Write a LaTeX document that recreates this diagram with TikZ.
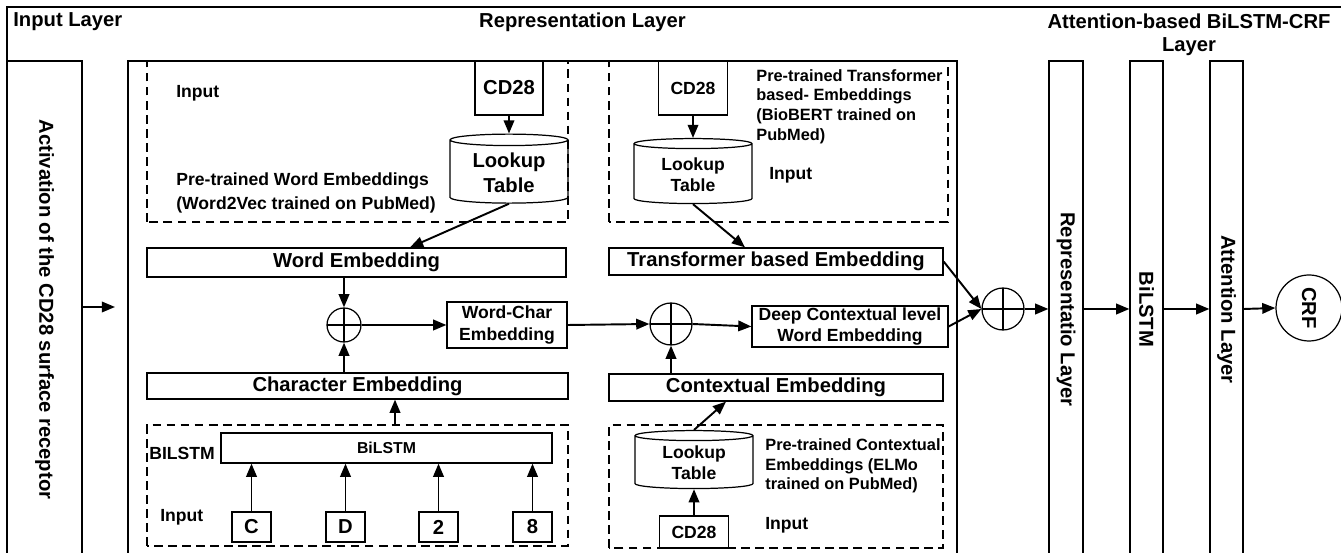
\documentclass[tikz,border=0pt]{standalone}
\usepackage{fontspec}
\setmainfont{Liberation Sans}
\usetikzlibrary{arrows.meta,shapes.geometric}

\begin{document}
\begin{tikzpicture}[
  box/.style={draw,line width=0.7pt,inner sep=1pt},
  dbox/.style={draw,line width=0.7pt,dash pattern=on 5pt off 3pt},
  arr/.style={-{Triangle[length=7.5pt,width=6pt]},line width=1.1pt},
  lut/.style={draw,cylinder,shape border rotate=90,aspect=0.15,line width=0.7pt,align=center,minimum width=2.36cm,inner sep=1pt},
  oplus/.style={draw,circle,line width=0.7pt,inner sep=0pt,
    path picture={\draw[line width=0.7pt] (path picture bounding box.north) -- (path picture bounding box.south)
      (path picture bounding box.west) -- (path picture bounding box.east);}},
  lbl/.style={anchor=west,inner sep=0pt,align=left},
  big/.style={font=\fontsize{11.5}{14}\selectfont\bfseries},
  txt/.style={font=\fontsize{10}{12}\selectfont\bfseries},
  note/.style={font=\fontsize{9.3}{11}\selectfont\bfseries},
]
\useasboundingbox (0,0) rectangle (26.82,11.06);

% Frame and layer titles
\draw[line width=0.8pt] (0.14,0) -- (0.14,10.92) -- (26.82,10.92);
\node[big,lbl] at (0.26,10.62) {Input Layer};
\node[big] at (11.65,10.62) {Representation Layer};
\node[big,align=center,font=\fontsize{11.5}{13}\selectfont\bfseries] at (23.78,10.36) {Attention-based BiLSTM-CRF\\Layer};

% Input layer
\node[box,big,minimum width=1.5cm,minimum height=9.94cm] (act) at (0.89,4.87) {\rotatebox{-90}{Activation of the CD28 surface receptor}};
\coordinate (repin) at (2.30,4.92);
\draw[arr] (act.east |- repin) -- (repin);

% Representation layer
\draw[line width=0.7pt] (2.56,-0.1) rectangle (19.14,9.84);
\draw[dbox] (2.94,6.62) rectangle (11.36,9.84);
\draw[dbox] (12.18,6.62) rectangle (18.96,9.84);
\draw[dbox] (2.94,0.14) rectangle (11.36,2.56);
\draw[dbox] (12.18,0.1) rectangle (18.86,2.56);

% Word2Vec part
\node[txt,lbl] at (3.52,9.2) {Input};
\node[txt,lbl,font=\fontsize{10}{13.6}\selectfont\bfseries] at (3.52,7.2) {Pre-trained Word Embeddings\\(Word2Vec trained on PubMed)};
\node[box,big,minimum width=1.36cm,minimum height=1.08cm] (cdw) at (10.18,9.3) {CD28};
\node[lut,big,minimum height=1.38cm] (lutw) at (10.18,7.61) {Lookup\\Table};
\draw[arr] (cdw.south) -- (lutw.north);
\node[box,big,minimum width=8.38cm,minimum height=0.58cm] (wemb) at (7.13,5.81) {Word Embedding};
\draw[arr] (lutw.south) -- ([xshift=1.07cm]wemb.north);

% BioBERT part
\node[box,txt,minimum width=1.38cm,minimum height=1.08cm] (cdt) at (13.86,9.3) {CD28};
\node[lut,txt,minimum height=1.3cm] (lutt) at (13.86,7.57) {Lookup\\Table};
\draw[arr] (cdt.south) -- (lutt.north);
\node[note,lbl,font=\fontsize{9.3}{11.2}\selectfont\bfseries] at (15.12,8.93) {Pre-trained Transformer\\based- Embeddings\\(BioBERT trained on\\PubMed)};
\node[txt,lbl] at (15.38,7.56) {Input};
\node[box,big,minimum width=6.68cm,minimum height=0.54cm] (temb) at (15.52,5.83) {Transformer based Embedding};
\draw[arr] (lutt.south) -- ([xshift=-0.62cm]temb.north);

% Combining
\node[oplus,minimum size=0.68cm] (plus1) at (6.88,4.56) {};
\node[box,txt,minimum width=2.4cm,minimum height=0.92cm,align=center] (wcemb) at (10.14,4.56) {Word-Char\\Embedding};
\node[oplus,minimum size=0.84cm] (plus2) at (13.42,4.58) {};
\node[box,txt,minimum width=3.92cm,minimum height=0.82cm,align=center,font=\fontsize{10}{11.5}\selectfont\bfseries] (dcemb) at (17.0,4.53) {Deep Contextual level\\Word Embedding};
\node[box,big,minimum width=8.42cm,minimum height=0.52cm] (chemb) at (7.15,3.34) {Character Embedding};
\node[box,big,minimum width=6.68cm,minimum height=0.54cm] (cemb) at (15.52,3.31) {Contextual Embedding};
\draw[arr] (plus1 |- wemb.south) -- (plus1.north);
\draw[arr] (plus1 |- chemb.north) -- (plus1.south);
\draw[arr] (plus1.east) -- (wcemb.west);
\draw[arr] (wcemb.east) -- (plus2.west);
\draw[arr] (plus2.east) -- (dcemb.west);
\draw[arr] (plus2 |- cemb.north) -- (plus2.south);

% Character part
\coordinate (chin) at (7.9,2.56);
\draw[arr] (chin) -- (chin |- chemb.south);
\node[txt,lbl] at (2.98,2.0) {BILSTM};
\node[box,font=\fontsize{9}{11}\selectfont\bfseries,minimum width=6.62cm,minimum height=0.6cm] (bilc) at (7.73,2.1) {BiLSTM};
\node[txt,lbl] at (3.2,0.72) {Input};
\foreach \c/\x in {C/5.03,D/6.91,2/8.77,8/10.65}{
  \node[box,big,minimum width=0.78cm,minimum height=0.6cm] (ch\c) at (\x,0.52) {\c};
  \draw[arr] (ch\c.north) -- (ch\c.north |- bilc.south);
}

% ELMo part
\node[lut,txt,minimum height=1.16cm] (lute) at (13.88,1.8) {Lookup\\Table};
\node[box,txt,minimum width=1.38cm,minimum height=0.64cm] (cde) at (13.88,0.42) {CD28};
\draw[arr] (cde.north) -- (lute.south);
\draw[arr] (lute.north) -- ([xshift=-1cm]cemb.south);
\node[note,lbl] at (15.3,1.74) {Pre-trained Contextual\\Embeddings (ELMo\\trained on PubMed)};
\node[txt,lbl] at (15.3,0.56) {Input};

% Attention-based BiLSTM-CRF layer
\node[oplus,minimum size=0.84cm] (plus3) at (20.06,4.88) {};
\draw[arr] (temb.east) -- (plus3.west);
\draw[arr] (dcemb.east) -- (plus3.west);
\node[box,big,minimum width=0.68cm,minimum height=9.94cm] (rep) at (21.32,4.87) {\rotatebox{-90}{Representatio Layer}};
\node[box,big,minimum width=0.66cm,minimum height=9.94cm] (bil) at (22.93,4.87) {\rotatebox{-90}{BiLSTM}};
\node[box,big,minimum width=0.66cm,minimum height=9.94cm] (att) at (24.53,4.87) {\rotatebox{-90}{Attention Layer}};
\node[draw,circle,line width=0.7pt,big,minimum size=1.32cm,inner sep=0pt] (crf) at (26.18,4.9) {\rotatebox{-90}{CRF}};
\draw[arr] (plus3.east) -- (plus3.east -| rep.west);
\draw[arr] (rep.east |- plus3) -- (bil.west |- plus3);
\draw[arr] (bil.east |- plus3) -- (att.west |- plus3);
\draw[arr] (att.east |- plus3) -- (crf.west);
\end{tikzpicture}
\end{document}
